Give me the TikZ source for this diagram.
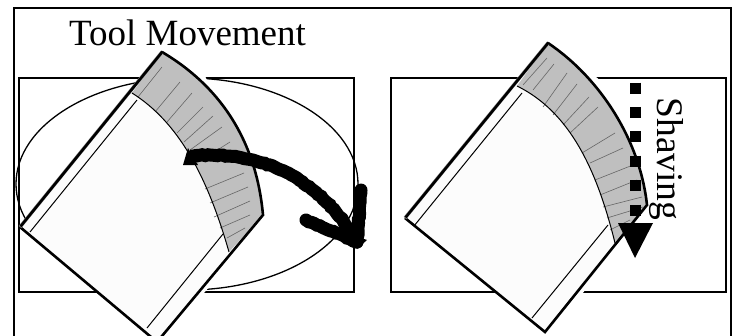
\documentclass[tikz,border=0pt]{standalone}
\usepackage{fontspec}
\setmainfont{Liberation Serif}
\usetikzlibrary{decorations.pathmorphing}
\tikzset{
  stock/.style={line width=2pt},
  toolside/.style={line width=2.6pt},
  thinside/.style={line width=1pt},
  hatchline/.style={line width=0.6pt,black!60},
  rough/.style={line width=13pt,decorate,decoration={random steps,segment length=3pt,amplitude=0.6pt}},
}
\begin{document}
\begin{tikzpicture}[x=1pt,y=-1pt]
    \useasboundingbox (0,0) rectangle (734,335);
    \fill[white] (0,0) rectangle (734,335);
    % frame
    \coordinate (f1) at (13.5,340);
    \coordinate (f2) at (13.5,8);
    \coordinate (f3) at (731,8);
    \coordinate (f4) at (731,340);
    \draw[line width=2pt] (f1) -- (f2) -- (f3) -- (f4);
    % left workpiece
    \draw[stock] (19,78) rectangle (354,292);
    \draw[line width=1.3pt] (187,184) ellipse (171 and 106);
    % left tool
    \coordinate (lT) at (162,52);
    \coordinate (lL) at (20,227);
    \coordinate (lB) at (157,342);
    \coordinate (lR) at (263,215);
    \coordinate (lI) at (132,93);
    \coordinate (lJ) at (229,252);
    \fill[white] (lL) -- (lT) -- (205,76) -- (270,215) -- (160,345) -- cycle;
    \fill[white!99!black] (lL) -- (lT) .. controls (218,85) and (256,138) .. (lR) -- (lB) -- cycle;
    \fill[black!25] (lT) .. controls (218,85) and (256,138) .. (lR) -- (lJ) .. controls (207,175) and (178,122) .. (lI) -- cycle;
    \foreach \xa/\ya/\xb/\yb in {162/67/138/97,180/82/155/112,192/93/167/122,203/107/177/133,213/116/184/142,222/127/190/150,230/142/197/163,244/173/205/189,248/187/210/203,250/201/214/217,250/215/220/228,245/228/227/238}
      \draw[hatchline] (\xa,\ya) -- (\xb,\yb);
    \draw[thinside] (lJ) .. controls (207,175) and (178,122) .. (lI);
    \draw[thinside] (137,100) -- (30,232);
    \draw[thinside] (223,234) -- (147,328);
    \draw[toolside] (lT) .. controls (218,85) and (256,138) .. (lR) -- (lB) -- (lL);
    \draw[line width=3.4pt,black!50] (lL) -- (lT);
    \draw[toolside] ([xshift=0.6pt,yshift=0.6pt]lL) -- ([xshift=0.6pt,yshift=0.6pt]lT);
    % right workpiece
    \draw[stock] (391,77.5) rectangle (726,292);
    % right tool
    \coordinate (rT) at (548,43);
    \coordinate (rL) at (405,218);
    \coordinate (rB) at (545,332);
    \coordinate (rR) at (647,205);
    \coordinate (rI) at (517,86);
    \coordinate (rJ) at (615,243);
    \fill[white] (rL) -- (rT) -- (595,76) -- (690,160) -- (650,210) -- (548,336) -- cycle;
    \fill[white!99!black] (rL) -- (rT) .. controls (600,78) and (640,140) .. (rR) -- (rB) -- cycle;
    \fill[black!25] (rT) .. controls (600,78) and (640,140) .. (rR) -- (rJ) .. controls (597,170) and (570,112) .. (rI) -- cycle;
    \foreach \xa/\ya/\xb/\yb in {547/58/523/85,554/64/533/90,567/73/543/107,577/84/553/115,589/97/563/125,598/107/570/133,615/133/582/153,623/148/590/163,633/165/595/180,637/180/600/195,642/197/603/207,643/207/607/218,630/220/610/230}
      \draw[hatchline] (\xa,\ya) -- (\xb,\yb);
    \draw[thinside] (rJ) .. controls (597,170) and (570,112) .. (rI);
    \draw[thinside] (522,93) -- (414,226);
    \draw[thinside] (608,225) -- (532,318);
    \draw[toolside] (rT) .. controls (600,78) and (640,140) .. (rR) -- (rB) -- (rL);
    \draw[line width=3.4pt,black!50] (rL) -- (rT);
    \draw[toolside] ([xshift=0.6pt,yshift=0.6pt]rL) -- ([xshift=0.6pt,yshift=0.6pt]rT);
    % movement arrow
    \coordinate (m1) at (190,156);
    \coordinate (m2) at (357,242);
    \coordinate (m3) at (361,190);
    \coordinate (m4) at (306,220);
    \draw[rough] (m1) .. controls (250,150) and (315,170) .. (m2);
    \draw[rough,line cap=round] (m3) -- (m2);
    \draw[rough,line cap=round] (m4) -- (m2);
    \fill (183,165) -- (188,148) -- (198,165) -- cycle;
    \fill (345,232) -- (367,240) -- (357,249) -- cycle;
    % shaving path
    \coordinate (s1) at (635,82.5);
    \coordinate (s2) at (635,223);
    \draw[line width=11pt,dash pattern=on 11pt off 13.4pt] (s1) -- (s2);
    \fill (618,223) -- (653,223) -- (635,258) -- cycle;
    % labels
    \node[font=\fontsize{37}{37}\selectfont,anchor=base] (toolmove) at (187.5,45) {Tool Movement};
    \node[font=\fontsize{37.5}{37.5}\selectfont,rotate=-90,anchor=base] (shave) at (657,159) {Shaving};
\end{tikzpicture}
\end{document}
